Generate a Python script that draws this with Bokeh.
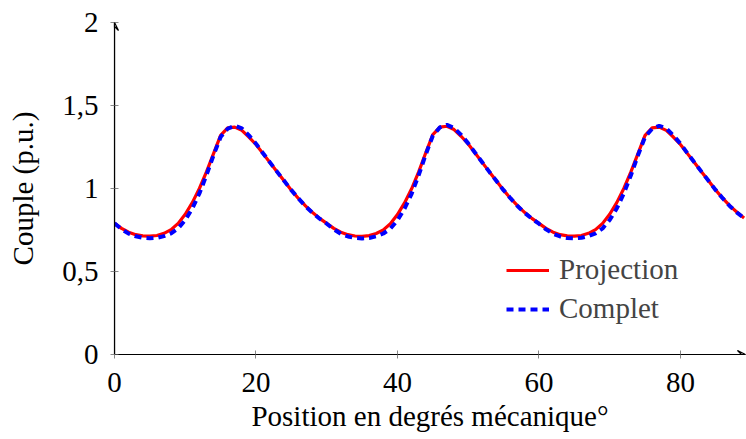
from bokeh.plotting import figure
from bokeh.models import FixedTicker, Arrow, VeeHead, Legend, LegendItem
from bokeh.embed import file_html
from bokeh.resources import INLINE

# Position (degrees)
x_deg = list(range(0, 90))

# Torque, projection model (p.u.)
couple_projection = [
    0.790, 0.760, 0.737, 0.722, 0.715, 0.713, 0.717, 0.730, 0.752, 0.790,
    0.845, 0.915, 1.000, 1.100, 1.210, 1.320, 1.365, 1.370, 1.350, 1.310,
    1.265, 1.210, 1.155, 1.100, 1.045, 0.990, 0.940, 0.895, 0.855, 0.820,
    0.790, 0.760, 0.737, 0.722, 0.714, 0.712, 0.716, 0.729, 0.751, 0.788,
    0.843, 0.913, 0.998, 1.100, 1.215, 1.325, 1.370, 1.375, 1.355, 1.315,
    1.268, 1.212, 1.156, 1.100, 1.045, 0.990, 0.940, 0.895, 0.855, 0.820,
    0.790, 0.760, 0.737, 0.722, 0.715, 0.713, 0.717, 0.730, 0.752, 0.790,
    0.845, 0.915, 1.000, 1.100, 1.210, 1.320, 1.365, 1.370, 1.350, 1.310,
    1.265, 1.210, 1.155, 1.100, 1.045, 0.990, 0.940, 0.895, 0.857, 0.823,
]

# Torque, complete model (p.u.)
couple_complet = [
    0.790, 0.755, 0.728, 0.712, 0.703, 0.700, 0.703, 0.713, 0.730, 0.760,
    0.810, 0.880, 0.970, 1.080, 1.200, 1.310, 1.360, 1.378, 1.362, 1.320,
    1.270, 1.212, 1.156, 1.100, 1.045, 0.990, 0.940, 0.893, 0.853, 0.818,
    0.788, 0.754, 0.727, 0.711, 0.702, 0.699, 0.702, 0.712, 0.729, 0.758,
    0.808, 0.878, 0.968, 1.080, 1.205, 1.318, 1.368, 1.383, 1.365, 1.323,
    1.272, 1.214, 1.157, 1.100, 1.045, 0.990, 0.940, 0.893, 0.853, 0.818,
    0.788, 0.754, 0.727, 0.711, 0.702, 0.700, 0.703, 0.713, 0.730, 0.760,
    0.810, 0.880, 0.970, 1.080, 1.200, 1.310, 1.360, 1.378, 1.362, 1.320,
    1.270, 1.212, 1.156, 1.100, 1.045, 0.990, 0.940, 0.893, 0.855, 0.821,
]

x_ticks = [0, 20, 40, 60, 80]
y_ticks = [0, 0.5, 1, 1.5, 2]
y_tick_labels = ["0", "0,5", "1", "1,5", "2"]

FONT = "'Liberation Serif', 'Times New Roman', serif"
FS = "29px"

p = figure(width=746, height=439, output_backend="svg", toolbar_location=None,
           x_range=(0, 89.2), y_range=(0, 2),
           min_border_left=114, min_border_right=1, min_border_top=22,
           min_border_bottom=85)
p.outline_line_color = None
p.xgrid.visible = False
p.ygrid.visible = False

r_proj = p.line(x_deg, couple_projection, line_color="#ff0000", line_width=3.2)
r_comp = p.line(x_deg, couple_complet, line_color="#0000ff", line_width=4,
                line_dash="7 5")

for ax in (p.xaxis[0], p.yaxis[0]):
    ax.axis_line_color = "black"
    ax.axis_line_width = 1.2
    ax.major_tick_line_color = "#888888"
    ax.major_tick_in = 4
    ax.major_tick_out = 4
    ax.minor_tick_line_color = None
    ax.major_label_text_font = FONT
    ax.major_label_text_font_size = FS
    ax.major_label_text_color = "black"
    ax.axis_label_text_font = FONT
    ax.axis_label_text_font_size = FS
    ax.axis_label_text_font_style = "normal"
    ax.axis_label_text_color = "black"

p.xaxis.ticker = FixedTicker(ticks=x_ticks)
p.yaxis.ticker = FixedTicker(ticks=y_ticks)
p.yaxis.major_label_overrides = {t: s for t, s in zip(y_ticks, y_tick_labels)}
p.xaxis.major_label_standoff = 14
p.yaxis.major_label_standoff = 12
p.xaxis.axis_label = "Position en degrés mécanique°"
p.yaxis.axis_label = "Couple (p.u.)"
p.xaxis.axis_label_standoff = 5
p.yaxis.axis_label_standoff = 20

p.add_layout(Arrow(end=VeeHead(size=8, line_color="black", line_width=1.2,
                               fill_color=None),
                   x_start=0, y_start=0, x_end=89.2, y_end=0,
                   line_color="black", line_width=1.2))
p.add_layout(Arrow(end=VeeHead(size=8, line_color="black", line_width=1.2,
                               fill_color=None),
                   x_start=0, y_start=0, x_end=0, y_end=2,
                   line_color="black", line_width=1.2))

legend = Legend(items=[LegendItem(label="Projection", renderers=[r_proj]),
                       LegendItem(label="Complet", renderers=[r_comp])],
                location=(392, 29), border_line_color=None,
                background_fill_alpha=0, label_text_font=FONT,
                label_text_font_size=FS, glyph_width=43, glyph_height=30,
                label_height=30, spacing=6, padding=0, margin=0,
                label_standoff=10)
p.add_layout(legend)

open("out.html", "w").write(file_html(p, INLINE))
